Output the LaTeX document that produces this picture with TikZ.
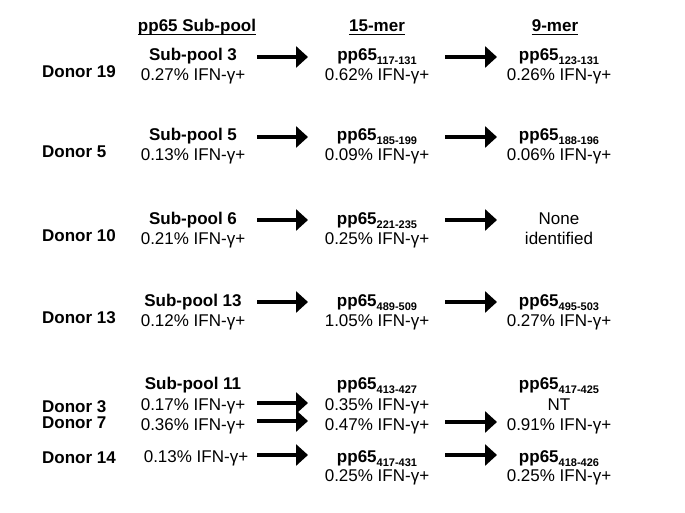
\documentclass[tikz,border=0pt]{standalone}
\usepackage{tikz}
\usepackage{xcolor}
\usepackage{fontspec}
\usetikzlibrary{arrows.meta}
\setmainfont{Liberation Sans}
\newcommand{\pp}[1]{\textbf{pp65\raisebox{-4pt}{\fontsize{11}{11}\selectfont #1}}}
\newcommand{\ifn}[1]{#1\% IFN-γ+}

\begin{document}
\begin{tikzpicture}[x=1pt,y=-1pt,
        txt/.style={inner sep=0pt,anchor=base,font=\fontsize{17}{20}\selectfont},
        donor/.style={txt,anchor=base west,font=\fontsize{17}{20}\selectfont\bfseries},
        head/.style={txt,font=\fontsize{17}{20}\selectfont\bfseries,text depth=2.5pt},
        fat/.style={line width=3.5pt,-{Triangle[length=12pt,width=21pt]}}]
    \useasboundingbox (0,0) rectangle (685,513);
    % column heads
    \foreach \h/\x/\lab in {1/197/pp65 Sub-pool,2/377/15-mer,3/555/9-mer}{
        \node[head] (h\h) at (\x,32) {\lab};
        \draw[line width=1.2pt] (h\h.south west) -- (h\h.south east);
    }
    % one donor per row
    \foreach \r/\t/\who/\pool/\fift/\va/\vb/\ntop/\nbot in {
            1/61/19/3/117-131/0.27/0.62/{\pp{123-131}}/{\ifn{0.26}},
            2/141/5/5/185-199/0.13/0.09/{\pp{188-196}}/{\ifn{0.06}},
            3/224/10/6/221-235/0.21/0.25/{None}/{identified},
            4/306/13/13/489-509/0.12/1.05/{\pp{495-503}}/{\ifn{0.27}}}{
        \node[donor] (donor\r) at (42,\t+17) {Donor \who};
        \node[txt] (pool\r) at (193,\t) {\textbf{Sub-pool \pool}};
        \node[txt] (pval\r) at (193,\t+20) {\ifn{\va}};
        \node[txt] (mer\r) at (377,\t) {\pp{\fift}};
        \node[txt] (mval\r) at (377,\t+20) {\ifn{\vb}};
        \node[txt] (nine\r) at (559,\t) {\ntop};
        \node[txt] (nval\r) at (559,\t+20) {\nbot};
        \coordinate (a\r) at (257,\t-4);
        \coordinate (b\r) at (308,\t-4);
        \coordinate (c\r) at (445,\t-4);
        \coordinate (d\r) at (497,\t-4);
        \draw[fat] (a\r) -- (b\r);
        \draw[fat] (c\r) -- (d\r);
    }
    % sub-pool 11, three donors
    \node[donor] (donor5) at (42,412) {Donor 3};
    \node[donor] (donor6) at (42,428) {Donor 7};
    \node[donor] (donor7) at (42,463) {Donor 14};
    \node[txt] (pool5) at (193,389) {\textbf{Sub-pool 11}};
    \node[txt] (pval5) at (193,410) {\ifn{0.17}};
    \node[txt] (pval6) at (193,430) {\ifn{0.36}};
    \node[txt] (pval7) at (196,462) {\ifn{0.13}};
    \node[txt] (mer5) at (377,389) {\pp{413-427}};
    \node[txt] (mval5) at (377,410) {\ifn{0.35}};
    \node[txt] (mval6) at (377,430) {\ifn{0.47}};
    \node[txt] (mer7) at (377,462) {\pp{417-431}};
    \node[txt] (mval7) at (377,481) {\ifn{0.25}};
    \node[txt] (nine5) at (559,389) {\pp{417-425}};
    \node[txt] (nt5) at (559,410) {NT};
    \node[txt] (nval6) at (559,430) {\ifn{0.91}};
    \node[txt] (nine7) at (559,462) {\pp{418-426}};
    \node[txt] (nval7) at (559,481) {\ifn{0.25}};
    \foreach \r/\y in {5/403,6/421,7/455}{
        \coordinate (a\r) at (257,\y);
        \coordinate (b\r) at (308,\y);
        \draw[fat] (a\r) -- (b\r);
    }
    \foreach \r/\y in {6/422,7/455}{
        \coordinate (c\r) at (445,\y);
        \coordinate (d\r) at (497,\y);
        \draw[fat] (c\r) -- (d\r);
    }
\end{tikzpicture}
\end{document}
